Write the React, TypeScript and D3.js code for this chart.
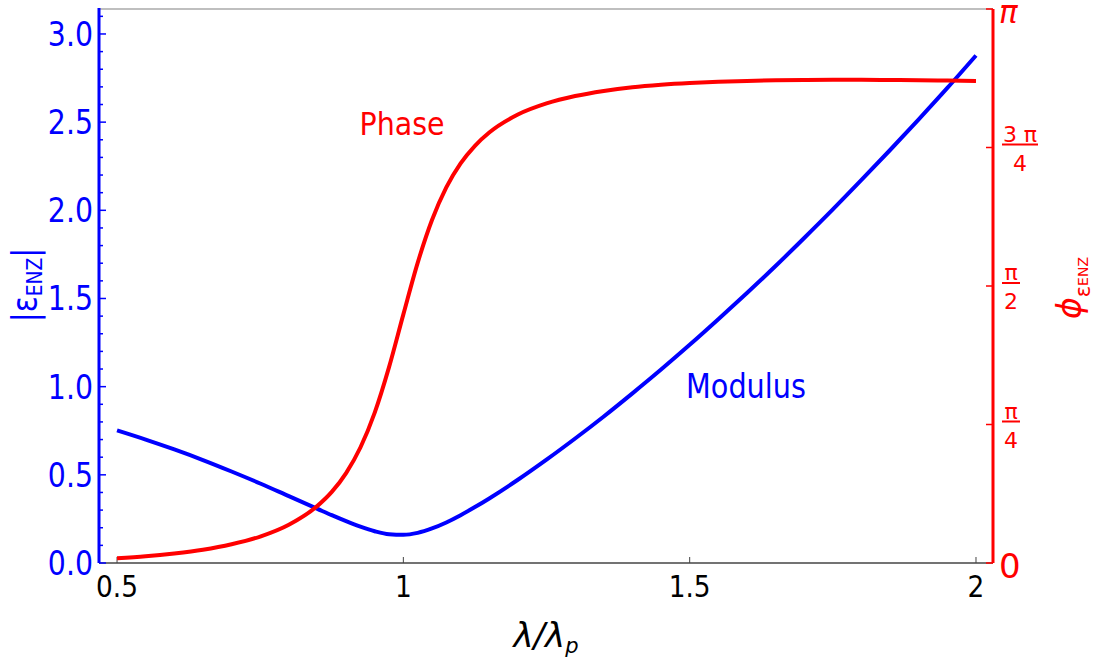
import React from "react";
import * as d3 from "d3";

const lambdaValues = [0.5, 0.55, 0.6, 0.65, 0.7, 0.75, 0.8, 0.85, 0.875, 0.9, 0.925, 0.95, 0.975, 1.0, 1.025, 1.05, 1.075, 1.1, 1.125, 1.15, 1.2, 1.25, 1.3, 1.35, 1.4, 1.45, 1.5, 1.55, 1.6, 1.65, 1.7, 1.75, 1.8, 1.85, 1.9, 1.95, 2.0];
const modulusValues = [0.752, 0.7, 0.644, 0.584, 0.519, 0.451, 0.379, 0.307, 0.271, 0.237, 0.206, 0.18, 0.163, 0.16, 0.171, 0.196, 0.23, 0.271, 0.317, 0.366, 0.472, 0.586, 0.706, 0.831, 0.962, 1.097, 1.237, 1.382, 1.531, 1.684, 1.843, 2.005, 2.172, 2.342, 2.516, 2.694, 2.878];
const phaseValues = [0.027, 0.038, 0.054, 0.075, 0.106, 0.15, 0.217, 0.324, 0.403, 0.51, 0.655, 0.853, 1.111, 1.41, 1.702, 1.945, 2.13, 2.266, 2.366, 2.441, 2.543, 2.606, 2.648, 2.677, 2.698, 2.712, 2.722, 2.729, 2.734, 2.737, 2.739, 2.74, 2.74, 2.739, 2.738, 2.736, 2.734];

const xTicks = [0.5, 1, 1.5, 2];
const xTickLabels = ["0.5", "1", "1.5", "2"];
const leftTicks = [0, 0.5, 1, 1.5, 2, 2.5, 3];
const leftTickLabels = ["0.0", "0.5", "1.0", "1.5", "2.0", "2.5", "3.0"];
const rightTickFractions = [0, 0.25, 0.5, 0.75, 1];
const rightNumerators = ["0", "π", "π", "3 π", "π"];
const rightDenominators = ["", "4", "2", "4", ""];

const W = 1102;
const H = 660;
const FONT = "'DejaVu Sans', Verdana, sans-serif";
const BLUE = "#0000ff";
const RED = "#ff0000";

function SText(props: any) {
  const { x, y, sx = 0.87, children, ...rest } = props;
  return (
    <text transform={`translate(${x},${y}) scale(${sx},1)`} fontFamily={FONT} {...rest}>
      {children}
    </text>
  );
}

export default function App() {
  const left = 99;
  const right = 993;
  const top = 9;
  const bottom = 563;
  const x = d3.scaleLinear().domain([0.4685, 2.0297]).range([left, right]);
  const y = d3.scaleLinear().domain([0, Math.PI]).range([bottom, top]);

  const pts = lambdaValues.map((l, i) => ({ l, m: modulusValues[i], p: phaseValues[i] }));
  const modLine = d3.line<any>().x((d) => x(d.l)).y((d) => y(d.m)).curve(d3.curveMonotoneX);
  const phaseLine = d3.line<any>().x((d) => x(d.l)).y((d) => y(d.p)).curve(d3.curveMonotoneX);

  const minorTicks = d3.range(0, 3.15, 0.1).filter((v) => Math.abs(v * 2 - Math.round(v * 2)) > 1e-6);

  return (
    <svg width={W} height={H} style={{ position: "absolute", left: 0, top: 0, display: "block" }}>
      <rect width={W} height={H} fill="#fff" />
      {/* frame top */}
      <line x1={left} x2={right} y1={top} y2={top} stroke="#808080" strokeWidth={1.2} />
      {/* bottom axis */}
      <line x1={left} x2={right} y1={bottom} y2={bottom} stroke="#444" strokeWidth={1.3} />
      {xTicks.map((t, i) => (
        <g key={"xt" + i}>
          <line x1={x(t)} x2={x(t)} y1={bottom} y2={bottom - 6} stroke="#444" strokeWidth={1} />
          <SText x={x(t)} y={597} sx={0.88} textAnchor="middle" fontSize={30} fill="#000">
            {xTickLabels[i]}
          </SText>
        </g>
      ))}
      <text x={546} y={647} textAnchor="middle" fontFamily={FONT} fontSize={34} fill="#000" fontStyle="italic">
        λ/λ<tspan fontSize={21} dy={6}>p</tspan>
      </text>

      {/* left axis */}
      <line x1={left} x2={left} y1={top - 1} y2={bottom} stroke={BLUE} strokeWidth={3} />
      {minorTicks.map((t, i) => (
        <line key={"mt" + i} x1={left} x2={left + 4} y1={y(t)} y2={y(t)} stroke={BLUE} strokeWidth={1.5} />
      ))}
      {leftTicks.map((t, i) => (
        <g key={"lt" + i}>
          <line x1={left} x2={left + 7} y1={y(t)} y2={y(t)} stroke={BLUE} strokeWidth={1.5} />
          <SText x={93} y={y(t) + 12} sx={0.86} textAnchor="end" fontSize={33} fill={BLUE}>
            {leftTickLabels[i]}
          </SText>
        </g>
      ))}
      <text transform="translate(37,285) rotate(-90) scale(0.85,1)" textAnchor="middle" fontFamily={FONT} fontSize={35} fill={BLUE}>
        |ε<tspan fontSize={22} dy={5}>ENZ</tspan><tspan dy={-5}>|</tspan>
      </text>

      {/* right axis */}
      <line x1={right} x2={right} y1={top} y2={bottom} stroke={RED} strokeWidth={3} />
      {rightTickFractions.map((f, i) => {
        const yy = y(f * Math.PI);
        const den = rightDenominators[i];
        const num = rightNumerators[i];
        const wide = num.length > 1;
        const cx = wide ? 1020 : 1011;
        return (
          <g key={"rt" + i}>
            <line x1={right} x2={right - 7} y1={yy} y2={yy} stroke={RED} strokeWidth={1.5} />
            {den === "" ? (
              <text x={999} y={i === 0 ? yy + 15 : yy + 14} fontFamily={FONT} fontSize={i === 0 ? 34 : 31} fontStyle={i === 0 ? "normal" : "italic"} fill={RED}>
                {num}
              </text>
            ) : (
              <g>
                <text x={cx} y={yy - 6} textAnchor="middle" fontFamily={FONT} fontSize={22} fill={RED}>
                  {num}
                </text>
                <line x1={1002} x2={wide ? 1038 : 1020} y1={yy - 3} y2={yy - 3} stroke={RED} strokeWidth={2} />
                <text x={cx} y={yy + 23} textAnchor="middle" fontFamily={FONT} fontSize={22} fill={RED}>
                  {den}
                </text>
              </g>
            )}
          </g>
        );
      })}
      <text transform="translate(1081,288) rotate(-90)" textAnchor="middle" fontFamily={FONT} fontSize={33} fill={RED} fontStyle="italic">
        ϕ<tspan fontSize={21} dy={9} fontStyle="normal">ε</tspan><tspan fontSize={14} dy={-2} fontStyle="normal">ENZ</tspan>
      </text>

      {/* curves */}
      <path d={modLine(pts) || ""} fill="none" stroke={BLUE} strokeWidth={4} />
      <path d={phaseLine(pts) || ""} fill="none" stroke={RED} strokeWidth={4} />

      <SText x={402} y={135} sx={0.89} textAnchor="middle" fontSize={32} fill={RED}>Phase</SText>
      <SText x={746} y={398} sx={0.87} textAnchor="middle" fontSize={33} fill={BLUE}>Modulus</SText>
    </svg>
  );
}
